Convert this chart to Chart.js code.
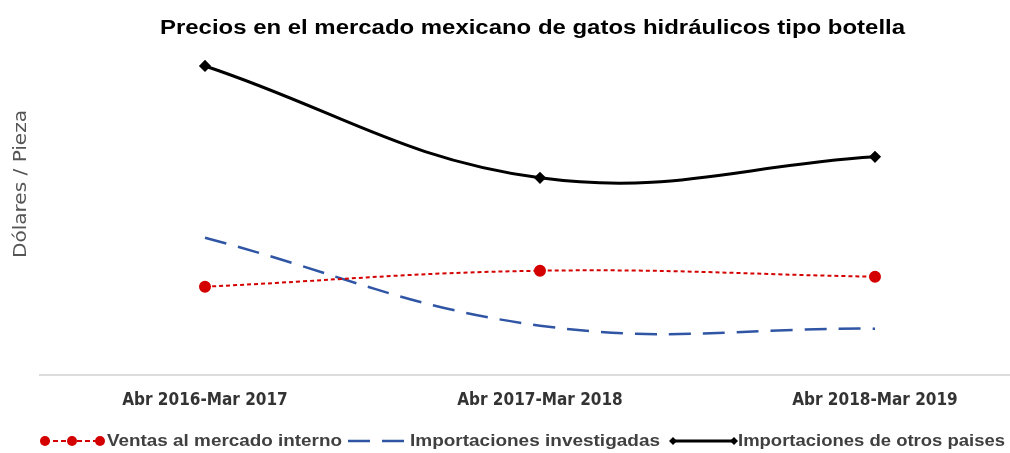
<!DOCTYPE html>
<html>
<head>
<meta charset="utf-8">
<script src="https://cdn.jsdelivr.net/npm/chart.js@4.4.0/dist/chart.umd.min.js"></script>
<style>
  html, body { margin: 0; padding: 0; background: #fff; overflow: hidden; }
  #chart { display: block; }
</style>
</head>
<body>
<canvas id="chart" width="1010" height="453"></canvas>
<script>
const periods = ["Abr 2016-Mar 2017", "Abr 2017-Mar 2018", "Abr 2018-Mar 2019"];
const ventasInterno = [8.8, 10.4, 9.8];
const importInvestigadas = [13.7, 4.9, 4.6];
const importOtros = [30.9, 19.7, 21.8];

const narrow = "'DejaVu Sans Condensed', 'Liberation Sans', sans-serif";
const arial = "'Liberation Sans', Arial, sans-serif";

const toPoints = (vals) => vals.map((v, i) => ({ x: i, y: v }));

// draw text squeezed/stretched to a given width (reference uses a narrow face)
function fitText(ctx, text, x, y, width, font) {
  ctx.font = font;
  const w = ctx.measureText(text).width;
  ctx.save();
  ctx.translate(x, y);
  ctx.scale(width / w, 1);
  ctx.textAlign = "left";
  ctx.textBaseline = "middle";
  ctx.fillText(text, 0, 0);
  ctx.restore();
}

const extras = {
  id: "extras",
  afterDraw(chart) {
    const ctx = chart.ctx;
    ctx.save();

    // title
    ctx.fillStyle = "#000";
    fitText(ctx, "Precios en el mercado mexicano de gatos hidráulicos tipo botella",
      160, 28, 745, "bold 20px " + arial);

    // y axis title
    ctx.save();
    ctx.translate(22, 258);
    ctx.rotate(-Math.PI / 2);
    ctx.fillStyle = "#555";
    fitText(ctx, "Dólares / Pieza", 0, 0, 148, "17px " + narrow);
    ctx.restore();

    // legend
    const y = 441;
    ctx.strokeStyle = "#d40000";
    ctx.fillStyle = "#d40000";
    ctx.lineWidth = 2;
    ctx.setLineDash([5, 3]);
    ctx.beginPath(); ctx.moveTo(45, y); ctx.lineTo(100, y); ctx.stroke();
    ctx.setLineDash([]);
    [45, 72, 100].forEach(px => { ctx.beginPath(); ctx.arc(px, y, 5, 0, Math.PI * 2); ctx.fill(); });

    ctx.strokeStyle = "#2f55a4";
    ctx.lineWidth = 2.5;
    ctx.setLineDash([22, 12]);
    ctx.beginPath(); ctx.moveTo(348, y); ctx.lineTo(406, y); ctx.stroke();
    ctx.setLineDash([]);

    ctx.strokeStyle = "#000";
    ctx.fillStyle = "#000";
    ctx.lineWidth = 3;
    ctx.beginPath(); ctx.moveTo(673, y); ctx.lineTo(734, y); ctx.stroke();
    [673, 734].forEach(px => {
      ctx.beginPath();
      ctx.moveTo(px, y - 4); ctx.lineTo(px + 4, y); ctx.lineTo(px, y + 4); ctx.lineTo(px - 4, y);
      ctx.closePath(); ctx.fill();
    });

    ctx.fillStyle = "#404040";
    const lf = "bold 17px " + arial;
    fitText(ctx, "Ventas al mercado interno", 107, y, 235, lf);
    fitText(ctx, "Importaciones investigadas", 410, y, 250, lf);
    fitText(ctx, "Importaciones de otros paises", 738, y, 267, lf);
    ctx.restore();
  }
};

new Chart(document.getElementById("chart"), {
  type: "line",
  data: {
    datasets: [
      {
        label: "Ventas al mercado interno",
        data: toPoints(ventasInterno),
        borderColor: "#d40000",
        backgroundColor: "#d40000",
        borderWidth: 2,
        borderDash: [4, 3],
        pointRadius: 5,
        pointHoverRadius: 5,
        tension: 0.4,
      },
      {
        label: "Importaciones investigadas",
        data: toPoints(importInvestigadas),
        borderColor: "#2f55a4",
        backgroundColor: "#2f55a4",
        borderWidth: 2.5,
        borderDash: [22, 12],
        pointRadius: 0,
        tension: 0.4,
      },
      {
        label: "Importaciones de otros paises",
        data: toPoints(importOtros),
        borderColor: "#000",
        backgroundColor: "#000",
        borderWidth: 3,
        pointStyle: "rectRot",
        pointRadius: 4,
        pointHoverRadius: 4,
        tension: 0.4,
      },
    ],
  },
  options: {
    responsive: false,
    animation: false,
    devicePixelRatio: 1,
    layout: { autoPadding: false, padding: { top: 50, right: 0, bottom: 34, left: 40 } },
    plugins: {
      legend: { display: false },
      tooltip: { enabled: false },
      title: { display: false },
    },
    scales: {
      x: {
        type: "linear",
        min: -0.4925,
        max: 2.403,
        afterBuildTicks: (axis) => { axis.ticks = periods.map((p, i) => ({ value: i })); },
        afterFit: (axis) => { axis.paddingLeft = 0; axis.paddingRight = 0; },
        ticks: {
          callback: (v) => periods[v],
          color: "#333",
          font: { size: 17, weight: "bold", family: narrow },
          padding: 8,
          maxRotation: 0,
          autoSkip: false,
        },
        grid: { display: false },
        border: { display: true, color: "#dcdcdc", width: 2 },
      },
      y: {
        display: false,
        min: 0,
        max: 32.5,
      },
    },
  },
  plugins: [extras],
});
</script>
</body>
</html>
